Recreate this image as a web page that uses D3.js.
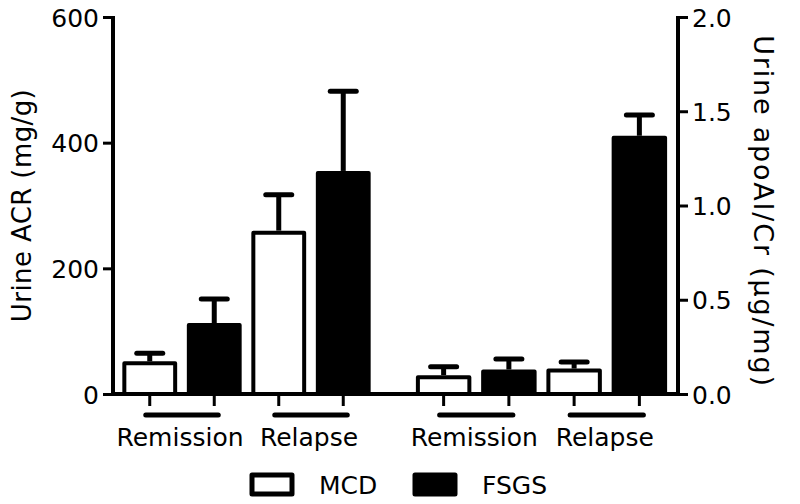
<!DOCTYPE html>
<html>
<head>
<meta charset="utf-8">
<script src="https://cdn.jsdelivr.net/npm/d3@7"></script>
<style>
  body { margin: 0; background: #fff; }
  text { font-family: "DejaVu Sans", Verdana, sans-serif; fill: #000; }
</style>
</head>
<body>
<div id="chart"></div>
<script>
var width = 800, height = 504;

// data
var conditions = ["Remission", "Relapse"];
var groups = ["MCD", "FSGS"];
var acrMean = [52, 113, 260, 355];      // Remission MCD, Remission FSGS, Relapse MCD, Relapse FSGS
var acrErr  = [13, 38, 57, 127];
var apoMean = [0.10, 0.13, 0.135, 1.37];
var apoErr  = [0.045, 0.056, 0.035, 0.11];
var acrTicks = [0, 200, 400, 600];
var apoTicks = [0, 0.5, 1.0, 1.5, 2.0];

var svg = d3.select("#chart").append("svg")
  .attr("width", width)
  .attr("height", height);

var yLeft = d3.scaleLinear().domain([0, 600]).range([394, 17]);
var yRight = d3.scaleLinear().domain([0, 2]).range([394, 17]);

var keys = [];
conditions.forEach(function(c){ groups.forEach(function(g){ keys.push(c + "|" + g); }); });

var xLeft = d3.scaleBand().domain(keys).range([117.5, 375.5]).paddingInner(0.15).paddingOuter(0.075);
var xRight = d3.scaleBand().domain(keys).range([411, 672]).paddingInner(0.15).paddingOuter(0.075);

var axisLeftX = 113, axisRightX = 678;

// baseline
svg.append("line")
  .attr("x1", axisLeftX).attr("x2", axisRightX)
  .attr("y1", yLeft(0)).attr("y2", yLeft(0))
  .attr("stroke", "#000").attr("stroke-width", 4);

// left axis
var gl = svg.append("g")
  .attr("transform", "translate(" + axisLeftX + ",0)")
  .call(d3.axisLeft(yLeft).tickValues(acrTicks).tickSize(10).tickPadding(4).tickFormat(d3.format("d")));
gl.select(".domain").attr("stroke-width", 4).attr("d", "M0," + (yLeft(600) - 1) + "V" + (yLeft(0) + 2));
gl.selectAll(".tick line").attr("stroke-width", 3);
gl.selectAll(".tick text").style("font-size", "25px").attr("dy", "0.36em");

// right axis
var gr = svg.append("g")
  .attr("transform", "translate(" + axisRightX + ",0)")
  .call(d3.axisRight(yRight).tickValues(apoTicks).tickSize(10).tickPadding(4).tickFormat(d3.format(".1f")));
gr.select(".domain").attr("stroke-width", 4).attr("d", "M0," + (yRight(2) - 1) + "V" + (yRight(0) + 2));
gr.selectAll(".tick line").attr("stroke-width", 3);
gr.selectAll(".tick text").style("font-size", "25px").attr("dy", "0.36em");

// axis titles
svg.append("text")
  .attr("transform", "translate(31," + ((yLeft(0) + yLeft(600)) / 2) + ") rotate(-90)")
  .attr("text-anchor", "middle")
  .style("font-size", "26px")
  .style("letter-spacing", "0.4px")
  .text("Urine ACR (mg/g)");

svg.append("text")
  .attr("transform", "translate(754," + ((yRight(0) + yRight(2)) / 2 + 6) + ") rotate(90)")
  .attr("text-anchor", "middle")
  .style("font-size", "27px")
  .style("letter-spacing", "1.8px")
  .text("Urine apoAI/Cr (\u00b5g/mg)");

function drawPanel(x, y, means, errs) {
  var data = keys.map(function(k, i){
    return { key: k, cond: k.split("|")[0], group: k.split("|")[1], mean: means[i], err: errs[i] };
  });
  var sw = 4;
  var g = svg.append("g");

  // error bars first (up only)
  g.selectAll("line.err").data(data).enter().append("line")
    .attr("class", "err")
    .attr("x1", function(d){ return x(d.key) + x.bandwidth() / 2; })
    .attr("x2", function(d){ return x(d.key) + x.bandwidth() / 2; })
    .attr("y1", function(d){ return y(d.mean); })
    .attr("y2", function(d){ return y(d.mean + d.err); })
    .attr("stroke", "#000").attr("stroke-width", 5);
  g.selectAll("line.cap").data(data).enter().append("line")
    .attr("class", "cap")
    .attr("x1", function(d){ return x(d.key) + x.bandwidth() / 2 - 13; })
    .attr("x2", function(d){ return x(d.key) + x.bandwidth() / 2 + 13; })
    .attr("y1", function(d){ return y(d.mean + d.err); })
    .attr("y2", function(d){ return y(d.mean + d.err); })
    .attr("stroke", "#000").attr("stroke-width", 5).attr("stroke-linecap", "round");

  g.selectAll("rect.bar").data(data).enter().append("rect")
    .attr("class", "bar")
    .attr("x", function(d){ return x(d.key) + sw / 2; })
    .attr("width", x.bandwidth() - sw)
    .attr("y", function(d){ return y(d.mean) + sw / 2; })
    .attr("height", function(d){ return y(0) - y(d.mean) - sw / 2; })
    .attr("fill", function(d){ return d.group == "MCD" ? "#fff" : "#000"; })
    .attr("stroke", "#000").attr("stroke-width", sw)
    .attr("stroke-linejoin", "round");

  // category ticks
  g.selectAll("line.ctick").data(data).enter().append("line")
    .attr("class", "ctick")
    .attr("x1", function(d){ return x(d.key) + x.bandwidth() / 2; })
    .attr("x2", function(d){ return x(d.key) + x.bandwidth() / 2; })
    .attr("y1", y(0)).attr("y2", y(0) + 12)
    .attr("stroke", "#000").attr("stroke-width", 3);

  conditions.forEach(function(c){
    var a = x(c + "|MCD") + x.bandwidth() / 2;
    var b = x(c + "|FSGS") + x.bandwidth() / 2;
    g.append("line")
      .attr("x1", a - 4).attr("x2", b + 4)
      .attr("y1", 415).attr("y2", 415)
      .attr("stroke", "#000").attr("stroke-width", 5).attr("stroke-linecap", "round");
    g.append("text")
      .attr("x", (a + b) / 2 - 2)
      .attr("y", 446)
      .attr("text-anchor", "middle")
      .style("font-size", "25px")
      .text(c);
  });
}

drawPanel(xLeft, yLeft, acrMean, acrErr);
drawPanel(xRight, yRight, apoMean, apoErr);

// legend
var legendX = [252, 415];
var leg = svg.append("g");
groups.forEach(function(gname, i){
  leg.append("rect")
    .attr("x", legendX[i]).attr("y", 475)
    .attr("width", 40).attr("height", 19)
    .attr("fill", gname == "MCD" ? "#fff" : "#000")
    .attr("stroke", "#000").attr("stroke-width", 5)
    .attr("stroke-linejoin", "round");
  leg.append("text")
    .attr("x", legendX[i] + 67).attr("y", 494)
    .style("font-size", "25px")
    .text(gname);
});
</script>
</body>
</html>
